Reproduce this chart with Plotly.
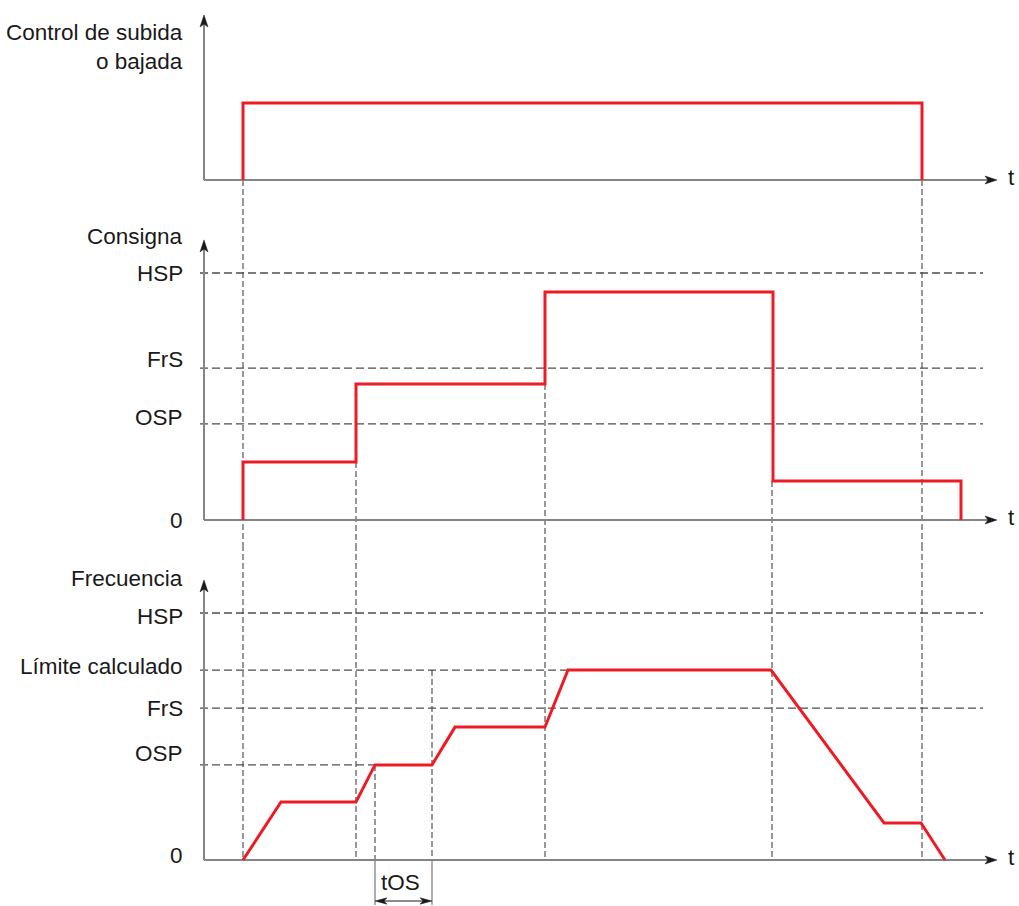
import plotly.graph_objects as go

# ---------------- data (time in arbitrary units, levels relative to HSP = 1) -------------
t_cmd = [3.9, 3.9, 71.8, 71.8]
y_cmd = [0, 0.312, 0.312, 0]

t_ref = [3.9, 3.9, 15.2, 15.2, 34.1, 34.1, 56.9, 56.9, 75.7, 75.7]
y_ref = [0, 0.235, 0.235, 0.551, 0.551, 0.923, 0.923, 0.158, 0.158, 0]

t_freq = [3.9, 7.7, 15.2, 17.1, 22.8, 25.1, 34.1, 36.4, 56.7, 68.0, 71.7, 74.1]
y_freq = [0, 0.235, 0.235, 0.385, 0.385, 0.538, 0.538, 0.769, 0.769, 0.150, 0.150, 0]

ref_levels = {"HSP": 1.0, "FrS": 0.615, "OSP": 0.389}
freq_levels = {"HSP": 1.0, "Límite calculado": 0.769, "FrS": 0.615, "OSP": 0.385}
freq_level_end = {"HSP": 77.9, "Límite calculado": 36.4, "FrS": 77.9, "OSP": 17.1}

panel_titles = ["Control de subida<br>o bajada", "Consigna", "Frecuencia"]
t_os = [17.1, 22.8]

# ---------------- layout constants ----------------
W, H = 1019, 906
PX_T = 10.0          # px per time unit
PX_Y = 247.0         # px per level unit
X0_PX = 204          # pixel of t = 0
# panel: (top px, bottom px, baseline px)
panels = [(0, 200, 180), (200, 545, 520), (545, 906, 860)]
yaxes = ["y", "y2", "y3"]

def yrange(p):
    top, bot, base = p
    return [(base - bot) / PX_Y, (base - top) / PX_Y]

RED = "#ED1C24"
AXIS = "#858585"
DASH_H = "#4d4d4d"
DASH_V = "#444444"
TXT = "#1a1a1a"
FONT = "Liberation Sans, Arial, sans-serif"

fig = go.Figure()

def line(t, y, ya, color, width, dash=None):
    fig.add_trace(go.Scatter(x=t, y=y, xaxis="x", yaxis=ya, mode="lines",
                             line=dict(color=color, width=width, dash=dash),
                             hoverinfo="skip", showlegend=False))

def head(tt, yy, ya, direction, length=12, half=4, notch=9, color="#1a1a1a"):
    L, Hh, N = length, half, notch
    if direction == "up":
        pts = [(0, 0), (-Hh, -L), (0, -N), (Hh, -L)]
    elif direction == "right":
        pts = [(0, 0), (-L, Hh), (-N, 0), (-L, -Hh)]
    else:  # left
        pts = [(0, 0), (L, Hh), (N, 0), (L, -Hh)]
    xs = [tt + a / PX_T for a, b in pts]
    ys = [yy + b / PX_Y for a, b in pts]
    xs.append(xs[0]); ys.append(ys[0])
    fig.add_trace(go.Scatter(x=xs, y=ys, xaxis="x", yaxis=ya, mode="lines",
                             fill="toself", fillcolor=color,
                             line=dict(color=color, width=0.5),
                             hoverinfo="skip", showlegend=False))

t_left = -0.4
t_axis_end = 79.3
y_tips = [0.668, 1.134, 1.134]

# horizontal dashed reference lines
for name, lv in ref_levels.items():
    line([t_left, 77.9], [lv, lv], "y2", DASH_H, 1.3, "8px,4px")
for name, lv in freq_levels.items():
    line([t_left, freq_level_end[name]], [lv, lv], "y3", DASH_H, 1.3, "8px,4px")

# vertical dashed guide lines: (t, start panel, start value, end panel, end value)
guides = [
    (3.9, 0, 0.0, 2, 0.0),
    (71.8, 0, 0.0, 2, 0.0),
    (15.2, 1, 0.235, 2, 0.0),
    (34.1, 1, 0.551, 2, 0.0),
    (56.8, 1, 0.158, 2, 0.0),
    (17.1, 2, 0.385, 2, 0.0),
    (22.8, 2, 0.769, 2, 0.0),
]
for t, p0, v0, p1, v1 in guides:
    for k in range(p0, p1 + 1):
        lo, hi = yrange(panels[k])
        a = v0 if k == p0 else hi
        b = v1 if k == p1 else lo
        line([t, t], [a, b], yaxes[k], DASH_V, 1.1, "6px,3px")

# solid extension lines for tOS
for t in t_os:
    line([t, t], [0, -0.182], "y3", "#777777", 1.2)

# axes
for k in range(3):
    line([0, 0], [0, y_tips[k] - 9 / PX_Y], yaxes[k], AXIS, 2)
    line([0, t_axis_end - 0.9], [0, 0], yaxes[k], AXIS, 2)

# signals
line(t_cmd, y_cmd, "y", RED, 3)
line(t_ref, y_ref, "y2", RED, 3)
line(t_freq, y_freq, "y3", RED, 3)

# arrow heads
for k in range(3):
    head(0, y_tips[k], yaxes[k], "up")
    head(t_axis_end, 0, yaxes[k], "right")

# tOS dimension arrow
y_dim = -0.166
line([t_os[0] + 0.5, t_os[1] - 0.5], [y_dim, y_dim], "y3", "#1a1a1a", 1.2)
head(t_os[0], y_dim, "y3", "left", length=12, half=3.2, notch=9)
head(t_os[1], y_dim, "y3", "right", length=12, half=3.2, notch=9)

# ---------------- text ----------------
annotations = []
def label(text, t, y, ya, xanchor="right", align="right"):
    annotations.append(dict(text=text, x=t, y=y, xref="x", yref=ya,
                            xanchor=xanchor, yanchor="middle", align=align,
                            showarrow=False, font=dict(family=FONT, size=22.5, color=TXT)))

t_lab = -1.9
label(panel_titles[0], t_lab, 0.538, "y")
label(panel_titles[1], t_lab, 1.146, "y2")
label(panel_titles[2], t_lab, 1.138, "y3")

ref_label_y = {"HSP": 0.996, "FrS": 0.648, "OSP": 0.417}
for name, yy in ref_label_y.items():
    label(name, t_lab, yy, "y2")
label("0", t_lab, 0.0, "y2")

freq_label_y = {"HSP": 0.984, "Límite calculado": 0.785, "FrS": 0.615, "OSP": 0.433}
for name, yy in freq_label_y.items():
    label(name, t_lab, yy, "y3")
label("0", t_lab, 0.02, "y3")

for k in range(3):
    label("t", 80.7, 0.012, yaxes[k], xanchor="center", align="center")

label("tOS", 19.6, -0.093, "y3", xanchor="center", align="center")

# ---------------- layout ----------------
layout = dict(
    width=W, height=H,
    margin=dict(l=0, r=0, t=0, b=0),
    paper_bgcolor="white", plot_bgcolor="white",
    showlegend=False, hovermode=False,
    xaxis=dict(range=[(0 - X0_PX) / PX_T, (W - X0_PX) / PX_T], visible=False,
               domain=[0, 1], fixedrange=True),
    annotations=annotations,
)
for k, p in enumerate(panels):
    top, bot, base = p
    key = "yaxis" if k == 0 else f"yaxis{k+1}"
    layout[key] = dict(range=yrange(p), domain=[1 - bot / H, 1 - top / H],
                       visible=False, anchor="x", fixedrange=True)

fig.update_layout(**layout)
fig.write_html("out.html", config={"displayModeBar": False},
               post_script="document.body.style.margin='0';document.body.style.padding='0';document.body.style.overflow='hidden';")
